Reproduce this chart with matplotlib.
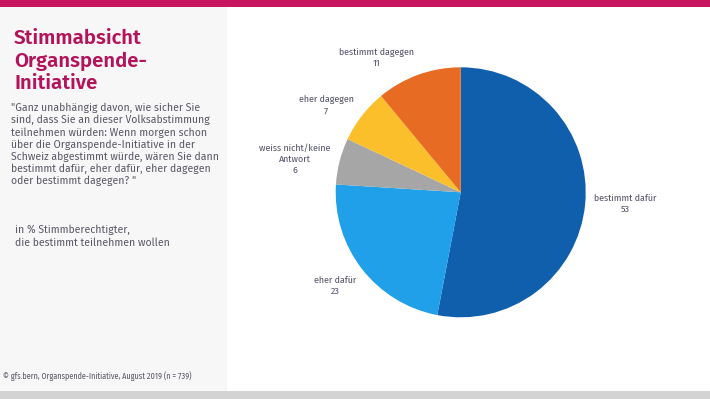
import matplotlib
matplotlib.use("Agg")
import matplotlib.pyplot as plt
from matplotlib.patches import Rectangle

categories = ["bestimmt dafür", "eher dafür", "weiss nicht/keine\nAntwort",
              "eher dagegen", "bestimmt dagegen"]
values = [53, 23, 6, 7, 11]
colors = ["#0f5fad", "#1fa0e9", "#a6a6a6", "#fbbf2c", "#e86b24"]

title = "Stimmabsicht\nOrganspende-\nInitiative"
question = ('"Ganz unabhängig davon, wie sicher Sie\n'
            'sind, dass Sie an dieser Volksabstimmung\n'
            'teilnehmen würden: Wenn morgen schon\n'
            'über die Organspende-Initiative in der\n'
            'Schweiz abgestimmt würde, wären Sie dann\n'
            'bestimmt dafür, eher dafür, eher dagegen\n'
            'oder bestimmt dagegen? "')
unit_note = "in % Stimmberechtigter,\ndie bestimmt teilnehmen wollen"
source = "© gfs.bern, Organspende-Initiative, August 2019 (n = 739)"

# label positions in units of pie radius
label_pos = [(1.316, -0.094), (-1.002, -0.746), (-1.326, 0.262),
             (-1.078, 0.694), (-0.674, 1.074)]

W, H = 710, 399
plt.rcParams['font.family'] = ['Fira Sans', 'DejaVu Sans']
cond = ['Fira Sans Condensed', 'DejaVu Sans']
fig = plt.figure(figsize=(7.1, 3.99), dpi=100)

# background in pixel coordinates
bg = fig.add_axes([0, 0, 1, 1])
bg.set_xlim(0, W)
bg.set_ylim(H, 0)
bg.axis('off')
bg.add_patch(Rectangle((0, 0), W, 7, color="#c8155f", lw=0))
bg.add_patch(Rectangle((0, 7), 227, 384, color="#f7f7f7", lw=0))
bg.add_patch(Rectangle((0, 391), W, 8, color="#d3d3d3", lw=0))

bg.text(14, 29, title, fontsize=14.7, fontweight='semibold', color="#b3135b",
        va='top', ha='left', linespacing=1.17)
bg.text(11, 103, question, fontsize=7.5, color="#5a5a68", va='top',
        ha='left', linespacing=1.16)
bg.text(15, 225, unit_note, fontsize=7.5, color="#5a5a68", va='top',
        ha='left', linespacing=1.25)
bg.text(3, 376, source, fontsize=5.9, family=cond, color="#5a5a68",
        va='center', ha='left')

# pie
cx, cy, r = 460.7, 192.3, 125
ax = fig.add_axes([(cx - r) / W, (H - cy - r) / H, 2 * r / W, 2 * r / H])
wedges, texts = ax.pie(values, colors=colors, startangle=90, counterclock=False,
                       labels=[f"{c}\n{v}" for c, v in zip(categories, values)],
                       wedgeprops=dict(linewidth=0))
for t, (x, y) in zip(texts, label_pos):
    t.set_position((x, y))
    t.set_ha('center')
    t.set_va('center')
    t.set_fontsize(7.1)
    t.set_family(cond)
    t.set_color("#55556a")
    t.set_linespacing(1.3)
ax.set_xlim(-1, 1)
ax.set_ylim(-1, 1)

fig.savefig("out.png", dpi=100)
